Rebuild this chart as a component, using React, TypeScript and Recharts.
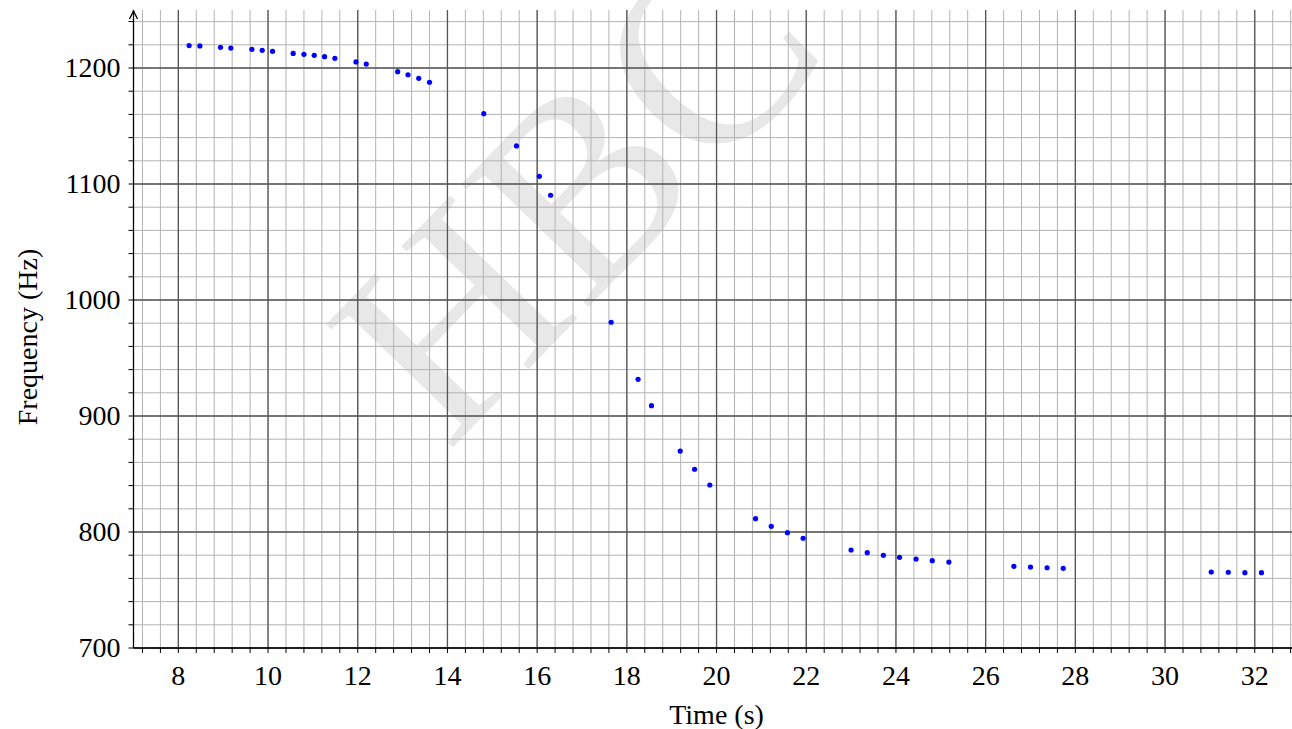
import React from 'react';
import { ScatterChart, Scatter, XAxis, YAxis, CartesianGrid, Customized } from 'recharts';

const times = [8.24, 8.48, 8.94, 9.17, 9.64, 9.87, 10.1, 10.56, 10.8, 11.03, 11.26, 11.49, 11.96, 12.19, 12.89, 13.12, 13.36, 13.6, 14.81, 15.54, 16.05, 16.3, 17.65, 18.25, 18.55, 19.19, 19.51, 19.85, 20.87, 21.22, 21.58, 21.93, 23.0, 23.36, 23.72, 24.08, 24.45, 24.81, 25.18, 26.63, 27.0, 27.37, 27.73, 31.03, 31.41, 31.78, 32.15];
const freqs = [1219.3, 1219, 1217.8, 1217.2, 1216.1, 1215.2, 1214.4, 1212.6, 1211.8, 1210.9, 1209.8, 1208.3, 1205.2, 1203.4, 1196.8, 1194.2, 1191.1, 1187.7, 1160.6, 1132.8, 1106.6, 1090.3, 980.8, 931.6, 908.9, 869.8, 854.1, 840.5, 811.5, 804.9, 799.4, 794.6, 784.5, 782.2, 779.9, 778.2, 776.7, 775.3, 774.1, 770.4, 769.8, 769.2, 768.7, 765.5, 765.3, 764.9, 764.9];

const xTickLabels = [8, 10, 12, 14, 16, 18, 20, 22, 24, 26, 28, 30, 32];
const yTickLabels = [700, 800, 900, 1000, 1100, 1200];
const xMinorTicks = Array.from({ length: 65 }, (_, i) => Math.round((7.2 + i * 0.4) * 10) / 10);
const yMinorTicks = Array.from({ length: 28 }, (_, i) => 700 + i * 20);

const X_DOMAIN: [number, number] = [7, 33];
const Y_DOMAIN: [number, number] = [700, 1250];

const data = times.map((t, i) => ({ t, f: freqs[i] }));

const FONT = '"Liberation Serif", "DejaVu Serif", serif';
const FS = 28;

function sx(axis: any, offset: any, v: number) {
  if (axis && typeof axis.scale === 'function') return axis.scale(v);
  return offset.left + ((v - X_DOMAIN[0]) / (X_DOMAIN[1] - X_DOMAIN[0])) * offset.width;
}
function sy(axis: any, offset: any, v: number) {
  if (axis && typeof axis.scale === 'function') return axis.scale(v);
  return offset.top + ((Y_DOMAIN[1] - v) / (Y_DOMAIN[1] - Y_DOMAIN[0])) * offset.height;
}

const XTick = (props: any) => {
  const { x, y, payload } = props;
  const v = payload.value;
  const show = xTickLabels.some((l) => Math.abs(l - v) < 1e-6);
  if (!show) return null;
  return (
    <text x={x} y={y + 30} textAnchor="middle" fontFamily={FONT} fontSize={FS} fill="#000">
      {String(v)}
    </text>
  );
};

const YTick = (props: any) => {
  const { x, y, payload } = props;
  const v = payload.value;
  const show = yTickLabels.some((l) => Math.abs(l - v) < 1e-6);
  if (!show) return null;
  return (
    <text x={x - 6} y={y + 9} textAnchor="end" fontFamily={FONT} fontSize={FS} fill="#000">
      {String(v)}
    </text>
  );
};

const Arrow = () => (
  <path d="M 129.5 19 L 133.5 11 L 137.5 19" fill="none" stroke="#000" strokeWidth={1.3} />
);

const Dot = (props: any) => <circle cx={props.cx} cy={props.cy} r={2.6} fill="#0000ff" />;

export default function App() {
  return (
    <div style={{ position: 'fixed', left: 0, top: 0, width: 1292, height: 729, overflow: 'hidden', background: '#fff' }}>
      <div
        style={{
          position: 'absolute',
          left: 575,
          top: 190,
          transform: 'translate(-50%, -50%) rotate(-46deg)',
          fontFamily: FONT,
          fontSize: 270,
          color: '#e8e8e8',
          lineHeight: 1,
          whiteSpace: 'nowrap',
        }}
      >
        HBC
      </div>
      <div style={{ position: 'absolute', left: 0, top: 0 }}>
        <ScatterChart width={1320} height={729} margin={{ top: 10, right: 20.4, left: 73.5, bottom: 21 }}>
          <CartesianGrid
            stroke="#b3b3b3"
            strokeWidth={1}
            fill="none"
            verticalCoordinatesGenerator={({ xAxis, offset }: any) => xMinorTicks.map((v) => sx(xAxis, offset, v))}
            horizontalCoordinatesGenerator={({ yAxis, offset }: any) => yMinorTicks.map((v) => sy(yAxis, offset, v))}
          />
          <CartesianGrid
            stroke="#555"
            strokeWidth={1.3}
            fill="none"
            verticalCoordinatesGenerator={({ xAxis, offset }: any) => xTickLabels.map((v) => sx(xAxis, offset, v))}
            horizontalCoordinatesGenerator={({ yAxis, offset }: any) => yTickLabels.map((v) => sy(yAxis, offset, v))}
          />
          <XAxis
            type="number"
            dataKey="t"
            domain={X_DOMAIN}
            ticks={xMinorTicks}
            interval={0}
            height={60}
            axisLine={{ stroke: '#000', strokeWidth: 1.3 }}
            tickLine={{ stroke: '#000', strokeWidth: 1 }}
            tickSize={5}
            tick={<XTick />}
            allowDataOverflow
            label={{
              content: ({ viewBox }: any) => (
                <text x={viewBox.x + viewBox.width / 2} y={724} textAnchor="middle" fontFamily={FONT} fontSize={FS} fill="#000">
                  Time (s)
                </text>
              ),
            }}
          />
          <YAxis
            type="number"
            dataKey="f"
            domain={Y_DOMAIN}
            ticks={yMinorTicks}
            interval={0}
            width={60}
            axisLine={{ stroke: '#000', strokeWidth: 1.3 }}
            tickLine={{ stroke: '#000', strokeWidth: 1 }}
            tickSize={5}
            tick={<YTick />}
            allowDataOverflow
            label={{
              content: ({ viewBox }: any) => {
                const cy = viewBox.y + viewBox.height / 2 + 8;
                return (
                  <text x={27} y={cy} transform={`rotate(-90 27 ${cy})`} textAnchor="middle" dominantBaseline="central" fontFamily={FONT} fontSize={FS} fill="#000">
                    Frequency (Hz)
                  </text>
                );
              },
            }}
          />
          <Scatter data={data} shape={<Dot />} isAnimationActive={false} />
          <Customized component={Arrow} />
        </ScatterChart>
      </div>
    </div>
  );
}
